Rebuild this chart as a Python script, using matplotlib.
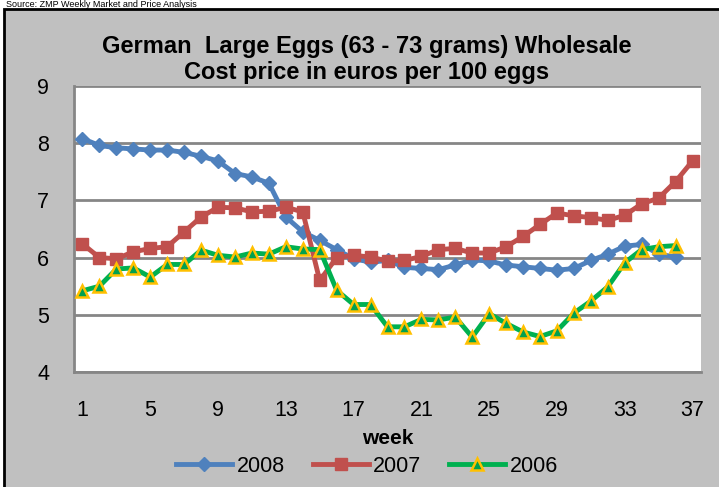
import matplotlib.pyplot as plt
from matplotlib.patches import Rectangle

plt.rcParams['font.family'] = ['Liberation Sans', 'DejaVu Sans']

weeks = list(range(1, 38))

prices_2008 = [8.08, 7.96, 7.92, 7.90, 7.88, 7.88, 7.84, 7.77, 7.69, 7.47,
               7.41, 7.30, 6.71, 6.45, 6.30, 6.14, 5.98, 5.92, 5.95, 5.83,
               5.81, 5.79, 5.87, 5.96, 5.94, 5.87, 5.84, 5.81, 5.78, 5.81,
               5.95, 6.06, 6.20, 6.23, 6.06, 6.01]

prices_2007 = [6.24, 6.00, 5.98, 6.10, 6.16, 6.19, 6.45, 6.71, 6.88, 6.87,
               6.80, 6.81, 6.88, 6.80, 5.60, 6.00, 6.04, 6.01, 5.94, 5.95,
               6.02, 6.14, 6.16, 6.08, 6.08, 6.19, 6.37, 6.58, 6.78, 6.73,
               6.70, 6.65, 6.74, 6.94, 7.04, 7.33, 7.69]

prices_2006 = [5.42, 5.50, 5.80, 5.82, 5.66, 5.88, 5.88, 6.13, 6.04, 6.01,
               6.08, 6.06, 6.19, 6.15, 6.14, 5.43, 5.18, 5.18, 4.79, 4.79,
               4.92, 4.91, 4.96, 4.61, 5.02, 4.85, 4.70, 4.62, 4.72, 5.03,
               5.24, 5.49, 5.91, 6.14, 6.19, 6.21]

week_ticks = [1, 5, 9, 13, 17, 21, 25, 29, 33, 37]

fig = plt.figure(figsize=(7.19, 4.87), dpi=100, facecolor='white')

# grey chart area with black frame (runs off the right/bottom edges)
fig.patches.append(Rectangle((4 / 719, -0.05), 1.0, 1 - 9 / 487 + 0.05,
                             transform=fig.transFigure, facecolor='#c0c0c0',
                             edgecolor='black', linewidth=2, zorder=-1))

fig.text(0.008, 1.0, "Source: ZMP Weekly Market and Price Analysis",
         fontsize=6.5, va='top', ha='left', color='black')

ax = fig.add_axes([74 / 719, 1 - 372 / 487, (701 - 74) / 719, (372 - 86) / 487])
ax.set_zorder(1)
ax.set_facecolor('white')

ax.plot(weeks[:len(prices_2008)], prices_2008, color='#4f81bd', lw=3.5,
        marker='D', markersize=7, label='2008', zorder=3)
ax.plot(weeks[:len(prices_2007)], prices_2007, color='#c0504d', lw=3.5,
        marker='s', markersize=8, label='2007', zorder=3)
ax.plot(weeks[:len(prices_2006)], prices_2006, color='#00b050', lw=3.5,
        marker='^', markersize=9, markerfacecolor='#00a050',
        markeredgecolor='#ffc000', markeredgewidth=1.8, label='2006', zorder=4)

ax.set_xlim(0.5, 37.5)
ax.set_ylim(4, 9)
ax.set_yticks([4, 5, 6, 7, 8, 9])
ax.set_xticks(week_ticks)
ax.tick_params(axis='y', length=0, pad=18, labelsize=15.5)
ax.tick_params(axis='x', length=0, pad=20, labelsize=15.5)
ax.grid(axis='y', color='#868686', linewidth=2)
ax.set_axisbelow(True)

for side in ['top', 'right']:
    ax.spines[side].set_visible(False)
for side in ['left', 'bottom']:
    ax.spines[side].set_color('#868686')
    ax.spines[side].set_linewidth(2)

ax.set_xlabel('week', fontsize=15, fontweight='bold', labelpad=6)

fig.text(367 / 719, 1 - 47 / 487, "German  Large Eggs (63 - 73 grams) Wholesale",
         fontsize=17, fontweight='bold', ha='center', va='center')
fig.text(367 / 719, 1 - 72 / 487, "Cost price in euros per 100 eggs",
         fontsize=17, fontweight='bold', ha='center', va='center')

fig.legend(loc='center', bbox_to_anchor=(367 / 719, 1 - 466 / 487), ncol=3,
           frameon=False, fontsize=15.5, handlelength=2.6, columnspacing=1.3,
           handletextpad=0.2)

fig.savefig('out.png', dpi=100, facecolor=fig.get_facecolor())
